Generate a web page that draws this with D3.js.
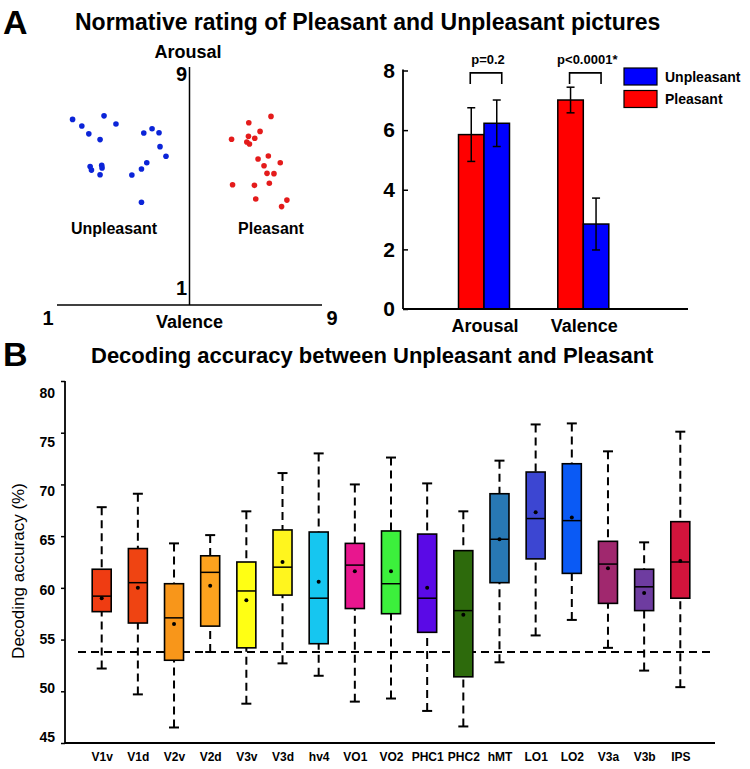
<!DOCTYPE html>
<html><head><meta charset="utf-8">
<script src="https://cdn.jsdelivr.net/npm/d3@7"></script>
<style>
body{margin:0;background:#fff}
svg{display:block;font-family:"Liberation Sans",Arial,Helvetica,sans-serif}
</style>
</head><body>
<svg id="chart" width="750" height="769"></svg>
<script>
// ---------- Panel A: scatter (valence, arousal) ----------
const unpleasantValence = [1.47,1.75,1.96,2.42,2.78,2.30,2.00,2.04,2.35,2.36,2.30,3.26,3.55,3.71,3.55,3.62,3.87,4.08,4.11,4.29];
const unpleasantArousal = [7.26,7.02,6.73,7.39,7.09,6.52,5.53,5.40,5.58,5.48,5.23,5.22,5.44,5.67,4.22,6.76,6.92,6.77,6.26,5.91];
const pleasantValence = [7.46,6.79,7.13,6.78,6.97,6.27,6.73,6.81,7.07,7.38,7.74,7.25,7.34,7.55,7.41,6.96,6.30,7.00,7.94,7.78];
const pleasantArousal = [7.37,7.14,6.82,6.64,6.57,6.53,6.43,6.36,5.81,5.92,5.67,5.56,5.28,5.27,4.92,4.84,4.86,4.34,4.30,4.06];

// ---------- Panel A: bar chart ----------
const ratingCategories = ["Arousal","Valence"];
const ratingGroups = ["Pleasant","Unpleasant"];
const pleasantMeans = [5.85, 7.01];
const pleasantErr = [0.90, 0.43];
const unpleasantMeans = [6.23, 2.85];
const unpleasantErr = [0.78, 0.87];
const pValues = ["p=0.2","p<0.0001*"];
const barTicks = [0,2,4,6,8];

// ---------- Panel B: box plot ----------
const regions = ["V1v","V1d","V2v","V2d","V3v","V3d","hv4","VO1","VO2","PHC1","PHC2","hMT","LO1","LO2","V3a","V3b","IPS"];
const whiskerLow  = [52.2,49.7,46.5,53.8,48.8,52.7,51.5,49.0,49.3,48.1,46.6,52.8,55.4,56.9,54.2,52.0,50.4];
const q1          = [57.7,56.6,53.0,56.3,54.2,59.3,54.6,58.0,57.5,55.7,51.4,60.5,62.8,61.4,58.5,57.8,59.0];
const medians     = [59.2,60.5,57.1,61.5,59.7,62.0,59.0,62.2,60.4,59.0,57.8,64.7,66.7,66.5,62.3,60.1,62.5];
const q3          = [61.8,63.8,60.4,63.1,62.5,65.6,65.4,64.3,65.5,65.2,63.6,69.1,71.2,72.0,64.5,61.8,66.4];
const whiskerHigh = [67.8,69.1,64.3,65.1,67.4,71.1,73.0,70.0,72.6,70.1,67.4,72.3,75.8,75.9,73.2,64.4,75.1];
const means       = [59.0,60.0,56.5,60.2,58.8,62.5,60.6,61.6,61.6,60.0,57.4,64.7,67.3,66.8,61.9,59.5,62.6];
const chanceLevel = 53.8;
const accuracyTicks = [45,50,55,60,65,70,75,80];

const boxColors = ["#ef3c12","#ef4412","#f8961a","#fca21e","#ffff14","#fff51e","#16c6f0","#e8168e","#3cf03c","#5a0ae6","#2d6a0c","#2878b4","#3c46d2","#0a5af5","#a0286e","#6e3ca0","#d2143c"];

const svg = d3.select("#chart");

// ===== Titles =====
svg.append("text").attr("x",3).attr("y",34).attr("font-size",34).attr("font-weight","bold").text("A");
svg.append("text").attr("x",75).attr("y",30).attr("font-size",23).attr("font-weight","bold")
  .text("Normative rating of Pleasant and Unpleasant pictures");
svg.append("text").attr("x",3).attr("y",366).attr("font-size",34).attr("font-weight","bold").text("B");
svg.append("text").attr("x",91).attr("y",363).attr("font-size",22).attr("font-weight","bold")
  .text("Decoding accuracy between Unpleasant and Pleasant");

// ===== Scatter =====
const xS = d3.scaleLinear().domain([1,9]).range([57,322]);
const yS = d3.scaleLinear().domain([1,9]).range([290,72]);
const gS = svg.append("g");
gS.append("line").attr("x1",xS(5)).attr("x2",xS(5)).attr("y1",yS(9)-5).attr("y2",305).attr("stroke","#000").attr("stroke-width",1.5);
gS.append("line").attr("x1",xS(1)).attr("x2",xS(9)).attr("y1",305).attr("y2",305).attr("stroke","#000").attr("stroke-width",1.5);
const lblS = (x,y,t,fs,anchor)=>gS.append("text").attr("x",x).attr("y",y).attr("font-size",fs).attr("font-weight","bold")
  .attr("text-anchor",anchor||"middle").attr("dominant-baseline","central").text(t);
lblS(188,52,"Arousal",18);
lblS(187,74,"9",20,"end");
lblS(187,288,"1",20,"end");
lblS(48,318,"1",20);
lblS(332,318,"9",20);
lblS(xS(5),322,"Valence",18);
lblS(114,228,"Unpleasant",16);
lblS(271,228,"Pleasant",16);
gS.selectAll("circle.u").data(unpleasantValence).join("circle").attr("class","u")
  .attr("cx",d=>xS(d)).attr("cy",(d,i)=>yS(unpleasantArousal[i])).attr("r",2.8).attr("fill","#0b24d8");
gS.selectAll("circle.p").data(pleasantValence).join("circle").attr("class","p")
  .attr("cx",d=>xS(d)).attr("cy",(d,i)=>yS(pleasantArousal[i])).attr("r",2.8).attr("fill","#e41b1b");

// ===== Bar chart =====
const yBar = d3.scaleLinear().domain([0,8]).range([309,70.5]);
const xBar = d3.scalePoint().domain(ratingCategories).range([484,583.3]);
const xSub = d3.scaleBand().domain(ratingGroups).range([-25.5,25.5]);
const barColor = {Pleasant:"#ff0000",Unpleasant:"#0000ff"};
const gB = svg.append("g");
const barData = [];
ratingCategories.forEach((c,i)=>{
  barData.push({cat:c,grp:"Pleasant",v:pleasantMeans[i],e:pleasantErr[i]});
  barData.push({cat:c,grp:"Unpleasant",v:unpleasantMeans[i],e:unpleasantErr[i]});
});
gB.selectAll("rect.bar").data(barData).join("rect").attr("class","bar")
  .attr("x",d=>xBar(d.cat)+xSub(d.grp)).attr("width",xSub.bandwidth())
  .attr("y",d=>yBar(d.v)).attr("height",d=>yBar(0)-yBar(d.v))
  .attr("fill",d=>barColor[d.grp]).attr("stroke","#000").attr("stroke-width",1.5);
const cx = d=>xBar(d.cat)+xSub(d.grp)+xSub.bandwidth()/2;
gB.selectAll("line.err").data(barData).join("line").attr("class","err")
  .attr("x1",cx).attr("x2",cx).attr("y1",d=>yBar(d.v+d.e)).attr("y2",d=>yBar(d.v-d.e))
  .attr("stroke","#000").attr("stroke-width",1.5);
["hi","lo"].forEach(k=>{
  gB.selectAll("line.cap"+k).data(barData).join("line").attr("class","cap"+k)
    .attr("x1",d=>cx(d)-4).attr("x2",d=>cx(d)+4)
    .attr("y1",d=>yBar(k==="hi"?d.v+d.e:d.v-d.e)).attr("y2",d=>yBar(k==="hi"?d.v+d.e:d.v-d.e))
    .attr("stroke","#000").attr("stroke-width",1.5);
});
// axes
const axB = gB.append("g").attr("transform","translate(403,0)")
  .call(d3.axisLeft(yBar).tickValues(barTicks).tickSize(-5).tickPadding(8).tickFormat(d3.format("d")));
axB.select(".domain").remove();
axB.selectAll(".tick line").attr("stroke","#000").attr("stroke-width",1.5);
axB.selectAll("text").attr("font-size",21).attr("font-weight","bold").attr("fill","#000").attr("font-family","Liberation Sans, Arial, sans-serif");
gB.append("line").attr("x1",403).attr("x2",403).attr("y1",yBar(8)-1).attr("y2",yBar(0)).attr("stroke","#000").attr("stroke-width",1.8);
gB.append("line").attr("x1",403).attr("x2",688).attr("y1",yBar(0)).attr("y2",yBar(0)).attr("stroke","#000").attr("stroke-width",1.8);
gB.selectAll("text.cat").data(ratingCategories).join("text").attr("class","cat")
  .attr("x",d=>xBar(d)+1).attr("y",326).attr("text-anchor","middle").attr("dominant-baseline","central")
  .attr("font-size",18).attr("font-weight","bold").text(d=>d);
// significance brackets
ratingCategories.forEach((c,i)=>{
  const x1 = xBar(c)+xSub("Pleasant")+xSub.bandwidth()/2-1;
  const x2 = xBar(c)+xSub("Unpleasant")+xSub.bandwidth()/2+5;
  const yt = yBar(7.92), yb = yBar(7.55);
  gB.append("path").attr("d",`M${x1},${yb}V${yt}H${x2}V${yb}`).attr("fill","none").attr("stroke","#000").attr("stroke-width",1.6);
  gB.append("text").attr("x",xBar(c)+4).attr("y",59).attr("text-anchor","middle").attr("dominant-baseline","central")
    .attr("font-size",13).attr("font-weight","bold").text(pValues[i]);
});
// legend
const legendItems = ["Unpleasant","Pleasant"];
legendItems.forEach((k,i)=>{
  const ly = 68 + i*22.5;
  gB.append("rect").attr("x",624).attr("y",ly).attr("width",33).attr("height",17)
    .attr("fill",barColor[k]).attr("stroke","#000").attr("stroke-width",1.2);
  gB.append("text").attr("x",665).attr("y",ly+8.5).attr("dominant-baseline","central")
    .attr("font-size",14).attr("font-weight","bold").text(k);
});

// ===== Box plot =====
const yB = d3.scaleLinear().domain([45,80]).range([743,381]);
const yLab = d3.scaleLinear().domain([45,80]).range([737,393]);
const xB = d3.scalePoint().domain(regions).range([101.7,680.3]);
const gX = svg.append("g");
// tick marks
const tickAx = gX.append("g").attr("transform","translate(65,0)")
  .call(d3.axisLeft(yB).tickValues(accuracyTicks).tickSize(4).tickFormat(""));
tickAx.select(".domain").remove();
tickAx.selectAll(".tick line").attr("stroke","#000").attr("stroke-width",1.5);
// tick labels
const labAx = gX.append("g").attr("transform","translate(65,0)")
  .call(d3.axisLeft(yLab).tickValues(accuracyTicks).tickSize(0).tickPadding(10));
labAx.select(".domain").remove();
labAx.selectAll("text").attr("font-size",14).attr("font-weight","bold").attr("fill","#000").attr("font-family","Liberation Sans, Arial, sans-serif");
gX.append("line").attr("x1",65).attr("x2",65).attr("y1",yB(80)).attr("y2",yB(45)).attr("stroke","#000").attr("stroke-width",1.8);
gX.append("line").attr("x1",65).attr("x2",715).attr("y1",yB(45)).attr("y2",yB(45)).attr("stroke","#000").attr("stroke-width",1.8);
// x labels
const xAx = gX.append("g").attr("transform",`translate(0,${yB(45)})`)
  .call(d3.axisBottom(xB).tickSize(0).tickPadding(9));
xAx.select(".domain").remove();
xAx.selectAll("text").attr("font-size",12).attr("font-weight","bold").attr("fill","#000").attr("font-family","Liberation Sans, Arial, sans-serif");
// y title
gX.append("text").attr("transform","translate(18,571) rotate(-90)").attr("text-anchor","middle")
  .attr("dominant-baseline","central").attr("font-size",17).text("Decoding accuracy (%)");

const boxData = regions.map((r,i)=>({r,lo:whiskerLow[i],q1:q1[i],med:medians[i],q3:q3[i],hi:whiskerHigh[i],mean:means[i],color:boxColors[i]}));
const bw = 19;
// whiskers
gX.selectAll("line.wl").data(boxData).join("line").attr("class","wl")
  .attr("x1",d=>xB(d.r)).attr("x2",d=>xB(d.r)).attr("y1",d=>yB(d.lo)).attr("y2",d=>yB(d.q1))
  .attr("stroke","#000").attr("stroke-width",2).attr("stroke-dasharray","8,5");
gX.selectAll("line.wh").data(boxData).join("line").attr("class","wh")
  .attr("x1",d=>xB(d.r)).attr("x2",d=>xB(d.r)).attr("y1",d=>yB(d.hi)).attr("y2",d=>yB(d.q3))
  .attr("stroke","#000").attr("stroke-width",2).attr("stroke-dasharray","8,5");
["lo","hi"].forEach(k=>{
  gX.selectAll("line.c"+k).data(boxData).join("line").attr("class","c"+k)
    .attr("x1",d=>xB(d.r)-5).attr("x2",d=>xB(d.r)+5).attr("y1",d=>yB(d[k])).attr("y2",d=>yB(d[k]))
    .attr("stroke","#000").attr("stroke-width",2);
});
// chance line
gX.append("line").attr("x1",78).attr("x2",715).attr("y1",yB(chanceLevel)).attr("y2",yB(chanceLevel))
  .attr("stroke","#000").attr("stroke-width",2).attr("stroke-dasharray","8,5");
// boxes
gX.selectAll("rect.box").data(boxData).join("rect").attr("class","box")
  .attr("x",d=>xB(d.r)-bw/2).attr("width",bw).attr("y",d=>yB(d.q3)).attr("height",d=>yB(d.q1)-yB(d.q3))
  .attr("fill",d=>d.color).attr("stroke","#000").attr("stroke-width",1.6);
gX.selectAll("line.med").data(boxData).join("line").attr("class","med")
  .attr("x1",d=>xB(d.r)-bw/2).attr("x2",d=>xB(d.r)+bw/2).attr("y1",d=>yB(d.med)).attr("y2",d=>yB(d.med))
  .attr("stroke","#000").attr("stroke-width",1.5);
gX.selectAll("circle.mean").data(boxData).join("circle").attr("class","mean")
  .attr("cx",d=>xB(d.r)).attr("cy",d=>yB(d.mean)).attr("r",2).attr("fill","#000");
</script>
</body></html>
